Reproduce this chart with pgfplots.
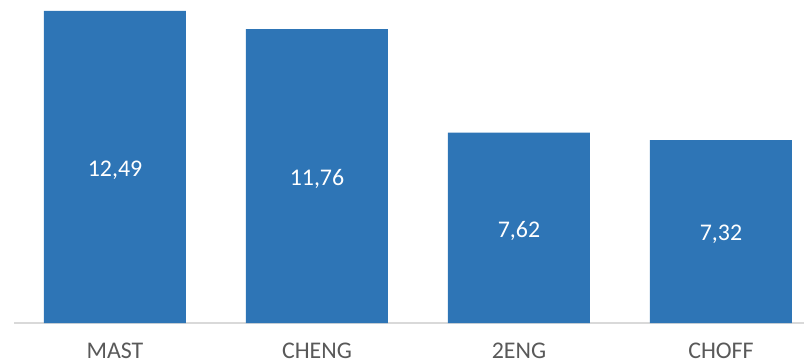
\documentclass[border=0pt]{standalone}
\usepackage{pgfplots}
\pgfplotsset{compat=1.18}
\usepackage{pgfplotstable}
\usepackage{fontspec}
\setmainfont{Carlito}
\definecolor{barblue}{RGB}{46,117,182}
\definecolor{labgray}{RGB}{89,89,89}
\definecolor{axgray}{RGB}{217,217,217}
\pgfplotstableread{
x v
0 12.49
1 11.76
2 7.62
3 7.32
}\datatable
\begin{document}
\begin{tikzpicture}
\useasboundingbox (-14bp,-41bp) rectangle (790bp,323bp);
\begin{axis}[
  scale only axis,
  width=790bp, height=323bp,
  xmin=-0.5, xmax=3.411,
  ymin=0, ymax=12.93,
  axis x line=bottom,
  axis y line=none,
  x axis line style={draw=axgray, line width=1.2bp, -},
  xtick={0,1,2,3},
  xticklabels={MAST,CHENG,2ENG,CHOFF},
  major tick length=0pt,
  xticklabel style={font=\fontsize{24}{28}\selectfont, text=labgray, anchor=north, inner sep=0pt, yshift=-19.5bp},
  ytick=\empty,
  /pgf/number format/assume math mode=true,
  clip=false,
]
\addplot[ybar, bar width=0.703, fill=barblue, draw=none] table[x=x, y=v] {\datatable};
\addplot[draw=none, mark=none,
  nodes near coords,
  point meta=explicit,
  nodes near coords align=center,
  every node near coord/.style={font=\fontsize{24}{28}\selectfont, text=white, yshift=-3bp,
    /pgf/number format/.cd, fixed, precision=2, fixed zerofill, use comma, assume math mode=true},
] table[x=x, y expr=\thisrow{v}/2, meta=v] {\datatable};
\end{axis}
\end{tikzpicture}
\end{document}
